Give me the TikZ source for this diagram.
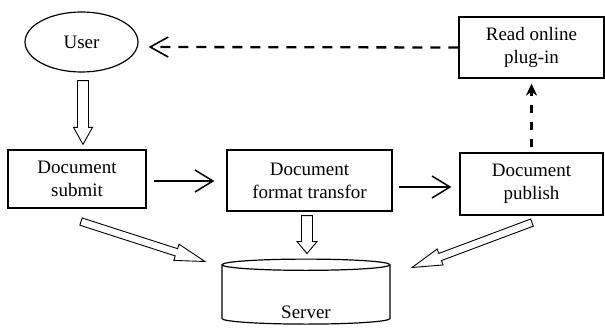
\documentclass[tikz,border=0pt]{standalone}
\usepackage{fontspec}
\setmainfont{Liberation Serif}
\usetikzlibrary{arrows.meta, positioning, calc, shapes.geometric, decorations.markings}

\begin{document}
\begin{tikzpicture}[
  x=1pt, y=-1pt,
  font=\fontsize{19}{23}\selectfont,
  box/.style={
    draw, line width=1.2pt, minimum width=#1, minimum height=61pt,
    align=center, inner sep=2pt
  },
  arr/.style={-{Straight Barb[length=18pt, width=22pt]}, line width=1.5pt},
  dsh/.style={line width=2.3pt, dash pattern=on 10pt off 8pt},
  hollow/.style n args={3}{decorate, decoration={markings,
    mark=at position 0 with {
      \draw[line width=0.9pt, fill=white, line join=miter]
        (0pt,-#1) -- ({\pgfdecoratedpathlength-#3},-#1)
        -- ({\pgfdecoratedpathlength-#3},-#2) -- ({\pgfdecoratedpathlength},0pt)
        -- ({\pgfdecoratedpathlength-#3},#2) -- ({\pgfdecoratedpathlength-#3},#1)
        -- (0pt,#1) -- cycle;}}},
]

\useasboundingbox (0,0) rectangle (605,331);

% top row
\node[draw, ellipse, line width=1.2pt, minimum width=113pt, minimum height=60pt]
  (usr) at (81.5,42) {User};
\node[box=145pt] (read) at (531.5,47.5) {Read online\\plug-in};

% middle row
\node[box=138pt, minimum height=58pt] (sub) at (77,179) {Document\\submit};
\node[box=165pt] (fmt) at (309.5,180.5) {Document\\format transfor};
\node[box=143pt, minimum height=62pt] (pub) at (531.5,184) {Document\\publish};

% server
\node[draw, cylinder, shape border rotate=90, aspect=0.2, line width=1.2pt,
      minimum width=168pt, minimum height=65pt]
  (srv) at (306,295.5) {\raisebox{-23pt}[0pt][0pt]{Server}};

% hollow arrows
\draw[hollow={5.5pt}{9.5pt}{17pt}]
  ([xshift=1.5pt,yshift=-8pt]usr.south) -- ([xshift=6pt,yshift=5pt]sub.north);
\draw[hollow={5.5pt}{10pt}{12pt}]
  ([xshift=-2.5pt,yshift=-4pt]fmt.south) -- ([xshift=1pt,yshift=5pt]srv.north);
\draw[hollow={3.8pt}{8.5pt}{30pt}]
  ([xshift=4pt,yshift=-13pt]sub.south) -- ([xshift=-101pt,yshift=-3pt]srv.north);
\draw[hollow={3.8pt}{8.5pt}{30pt}]
  ([xshift=0.5pt,yshift=-7pt]pub.south) -- ([xshift=106pt,yshift=-9pt]srv.north);

% flow arrows
\draw[arr] ([xshift=7pt,yshift=-2pt]sub.east) -- ([xshift=-12pt,yshift=-0.5pt]fmt.west);
\draw[arr] ([xshift=6pt,yshift=-6.5pt]fmt.east) -- ([xshift=-8pt,yshift=-3pt]pub.west);

% dashed returns
\draw[dsh, -{Stealth[length=12pt, width=11pt]}, dash pattern=on 8pt off 9pt]
  ([yshift=5pt]pub.north) -- ([yshift=-5pt]read.south);
\draw[dsh, -{Straight Barb[length=18pt, width=20pt, line width=1.6pt]}]
  (read.west) -- ([xshift=10pt,yshift=-5pt]usr.east);

\end{tikzpicture}
\end{document}
